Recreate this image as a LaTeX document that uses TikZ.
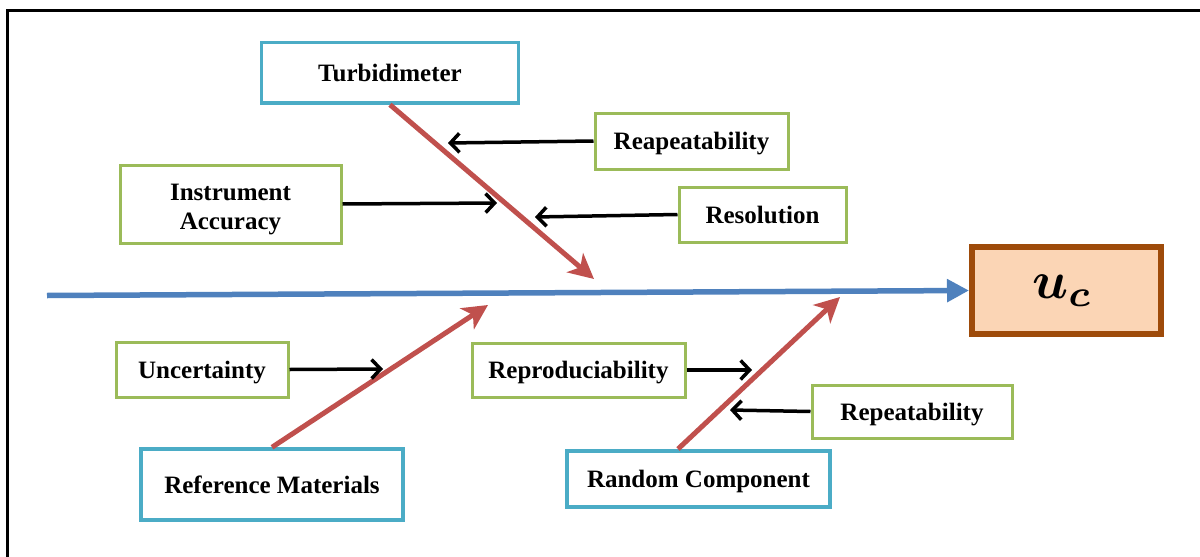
\documentclass[tikz,border=0pt]{standalone}
\usepackage{fontspec}
\setmainfont{Liberation Serif}
\usepackage{amsmath}
\usetikzlibrary{arrows.meta}
\definecolor{tealc}{RGB}{75,172,198}
\definecolor{greenc}{RGB}{155,187,89}
\definecolor{redc}{RGB}{192,80,77}
\definecolor{bluec}{RGB}{79,129,189}
\definecolor{brownc}{RGB}{158,75,10}
\definecolor{peachc}{RGB}{251,213,181}
\begin{document}
\begin{tikzpicture}[x=1pt,y=-1pt,
  basebox/.style={fill=white, inner sep=0pt, align=center,
    text height=21pt, text depth=4pt,
    font=\fontsize{25}{29}\selectfont\bfseries},
  mainbox/.style={basebox, draw=tealc, line width=3.5pt},
  subbox/.style={basebox, draw=greenc, line width=3pt},
  ucbox/.style={draw=brownc, fill=peachc, line width=6pt, inner sep=0pt},
  blackarrow/.style={draw=black, line width=3.5pt, -{Straight Barb[length=9pt,width=19pt]}},
  redarrow/.style={draw=redc, line width=5pt, -{Stealth[length=25pt,width=25pt,inset=7pt]}},
  bluearrow/.style={draw=bluec, line width=5.5pt, -{Triangle[length=22pt,width=22pt]}}
]
\useasboundingbox (0,0) rectangle (1200,557);
\fill[white] (0,0) rectangle (1200,557);
\draw[line width=3pt] (7,557) -- (7,10) -- (1200,10);

% nodes
\node[mainbox, minimum width=256.6pt, minimum height=60.3pt] (turb) at (390,72.8) {Turbidimeter};
\node[subbox, minimum width=193pt, minimum height=56pt] (reap) at (691.5,141) {Reapeatability};
\node[subbox, minimum width=221pt, minimum height=78pt, text height=, text depth=] (instr) at (230.5,204) {\rule{0pt}{27pt}Instrument\\Accuracy};
\node[subbox, minimum width=167pt, minimum height=55pt] (resol) at (762.5,214.5) {Resolution};
\node[ucbox, minimum width=189pt, minimum height=87pt] (uc) at (1066.5,290.5) {\hspace*{-8pt}\scalebox{5.3}{$\boldsymbol{u_c}$}};
\node[subbox, minimum width=172pt, minimum height=55pt] (unc) at (202,369.5) {Uncertainty};
\node[subbox, minimum width=213pt, minimum height=54pt] (repro) at (578.5,370) {Reproduciability};
\node[subbox, minimum width=200pt, minimum height=53pt] (repeat) at (912,411.5) {Repeatability};
\node[mainbox, minimum width=262pt, minimum height=71pt] (refm) at (272,484.5) {Reference Materials};
\node[mainbox, minimum width=263pt, minimum height=56pt] (rand) at (698.5,479) {Random Component};

% free ends
\coordinate (spinestart) at (47,295.5);
\coordinate (tipturb) at (594,279);
\coordinate (tiprefm) at (488,305);
\coordinate (tiprand) at (840,297);
\coordinate (randstart) at (678,449);
\coordinate (tipreap) at (448,143);
\coordinate (tipinstr) at (497,203);
\coordinate (tipresol) at (535,217);
\coordinate (tipunc) at (383,369);
\coordinate (tiprepro) at (752,370);
\coordinate (tiprepeat) at (730,410);

% spine
\draw[bluearrow] (spinestart) -- (uc.west);

% red bones
\draw[redarrow] (turb.south) -- (tipturb);
\draw[redarrow] (refm.north) -- (tiprefm);
\draw[redarrow] (randstart) -- (tiprand);

% black arrows
\draw[blackarrow] (reap.west) -- (tipreap);
\draw[blackarrow] (instr.east) -- (tipinstr);
\draw[blackarrow] (resol.west) -- (tipresol);
\draw[blackarrow] (unc.east) -- (tipunc);
\draw[blackarrow] (repro.east) -- (tiprepro);
\draw[blackarrow] (repeat.west) -- (tiprepeat);
\end{tikzpicture}
\end{document}
